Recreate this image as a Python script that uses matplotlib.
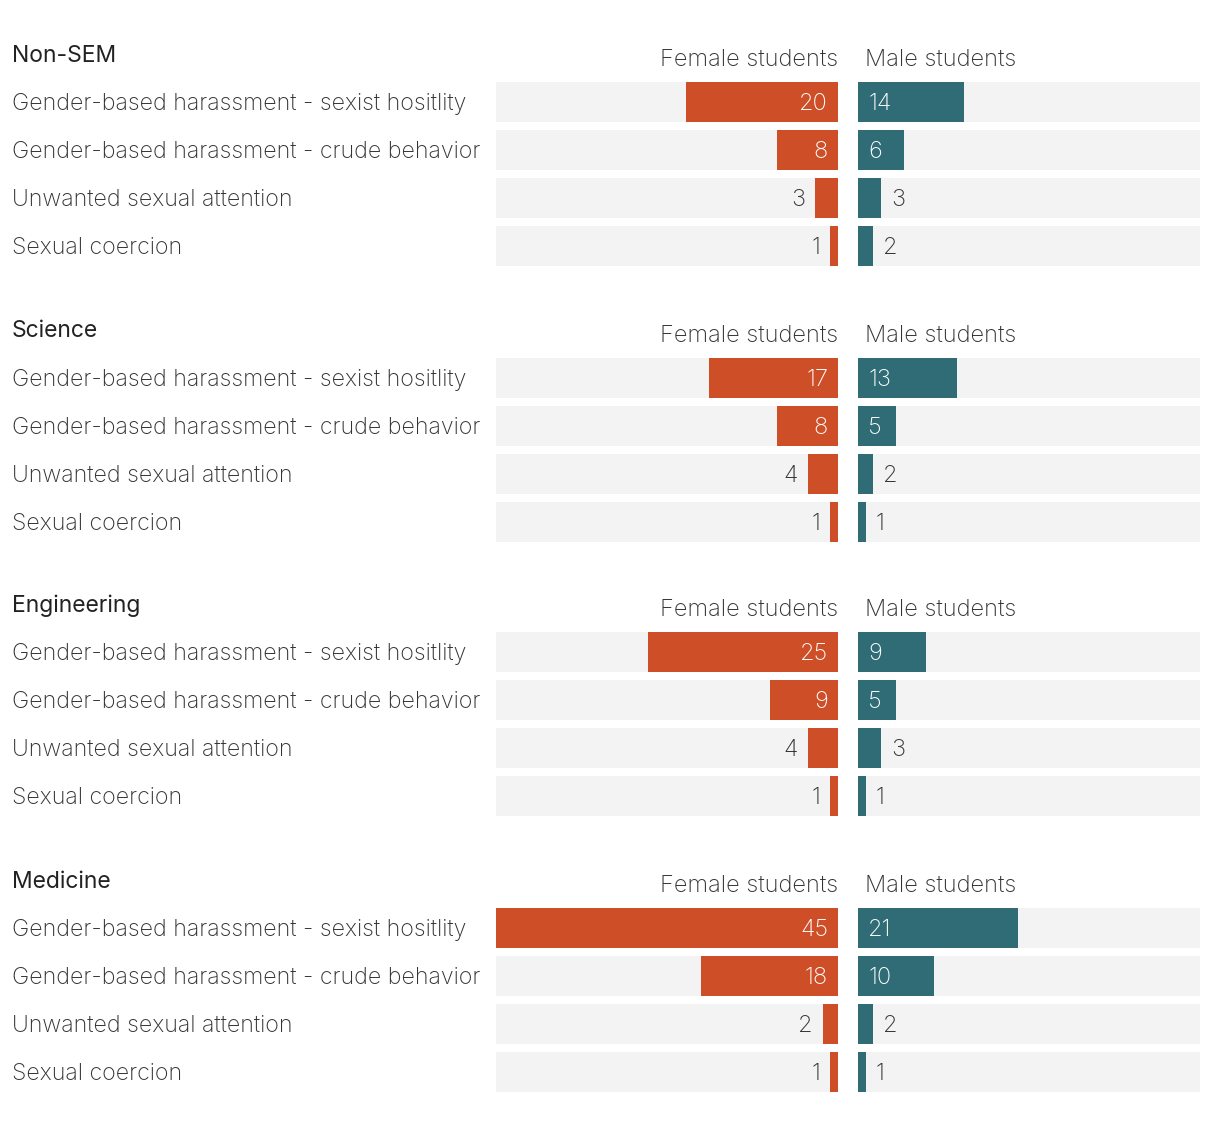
import matplotlib
matplotlib.use("Agg")
import matplotlib.pyplot as plt
from matplotlib.transforms import blended_transform_factory

plt.rcParams['font.family'] = ['Inter', 'DejaVu Sans']

groups = ["Non-SEM", "Science", "Engineering", "Medicine"]
categories = ["Gender-based harassment - sexist hositlity",
              "Gender-based harassment - crude behavior",
              "Unwanted sexual attention",
              "Sexual coercion"]
female = [[20, 8, 3, 1], [17, 8, 4, 1], [25, 9, 4, 1], [45, 18, 2, 1]]
male = [[14, 6, 3, 2], [13, 5, 2, 1], [9, 5, 3, 1], [21, 10, 2, 1]]
xmax = 45

ORANGE = "#CE4E28"
TEAL = "#2F6C76"
GRAY = "#F3F3F3"
TEXT = "#333333"

W, H = 1220, 1134
fig = plt.figure(figsize=(W / 100, H / 100), dpi=100)

panel_tops = [78, 354, 628, 904]
rows = range(len(categories))
PAD = 7.2   # 10 px
DY = -1.5   # nudge text down a little


for g, top in enumerate(panel_tops):
    bottom = 1 - (top + 192) / H
    axf = fig.add_axes([496 / W, bottom, 342 / W, 192 / H])
    axm = fig.add_axes([858 / W, bottom, 342 / W, 192 / H])
    for ax, vals, col, inv in [(axf, female[g], ORANGE, True), (axm, male[g], TEAL, False)]:
        ax.set_xlim(0, xmax)
        if inv:
            ax.invert_xaxis()
        ax.set_ylim(3.5, -0.5)
        ax.axis("off")
        ax.barh(rows, [xmax] * 4, height=40 / 48, color=GRAY)
        ax.barh(rows, vals, height=40 / 48, color=col)
        d = -1 if inv else 1
        for i, v in enumerate(vals):
            inside = v >= 5
            ax.annotate(str(v), (0 if inside else v, i), xytext=(d * PAD, DY),
                        textcoords="offset points", va="center",
                        ha="right" if inv else "left",
                        fontsize=17, fontweight="light",
                        color="white" if inside else TEXT)

    fig.text(12 / W, 1 - (top - 24) / H - 1.5 / H, groups[g], fontsize=16.5,
             color="#222222", va="center", ha="left")
    axf.annotate("Female students", (1, 1), xycoords="axes fraction", xytext=(0, 14.4 + DY),
                 textcoords="offset points", ha="right", va="center",
                 fontsize=17, fontweight="light", color=TEXT)
    axm.annotate("Male students", (0, 1), xycoords="axes fraction", xytext=(5, 14.4 + DY),
                 textcoords="offset points", ha="left", va="center",
                 fontsize=17, fontweight="light", color=TEXT)
    tr = blended_transform_factory(fig.transFigure, axf.transData)
    for i, c in enumerate(categories):
        axf.annotate(c, (12 / W, i), xycoords=tr, xytext=(0, DY), textcoords="offset points",
                     ha="left", va="center", fontsize=16.7, fontweight="light", color=TEXT)

fig.savefig("out.png", dpi=100, facecolor="white")
